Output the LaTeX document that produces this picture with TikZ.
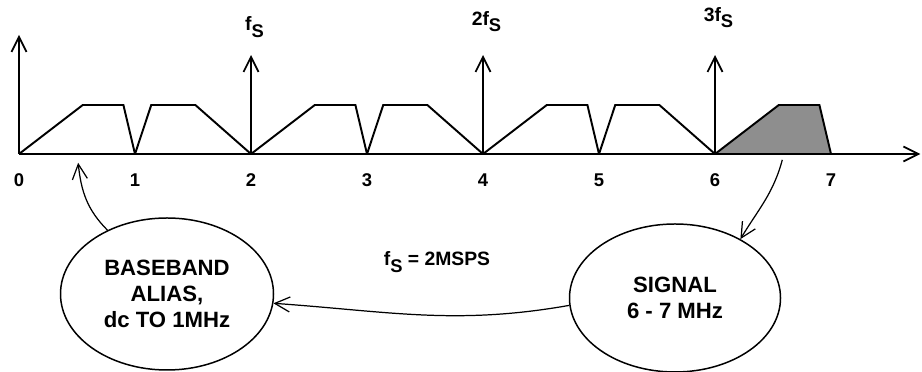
\documentclass[tikz,border=0pt]{standalone}
\usepackage{fontspec}
\setmainfont{Liberation Sans}
\usetikzlibrary{arrows.meta,positioning,shapes.geometric}
\definecolor{bandgrey}{HTML}{8E8E8E}
% sampling frequency with its lowered S
\newcommand{\fsamp}{f\raisebox{-0.33em}{\scalebox{0.95}{S}}}
\tikzset{
  >={Straight Barb[length=3mm,width=3mm]},
  % spectrum
  ax/.style={->,line width=1pt},
  imp/.style={->,line width=1pt},
  band/.style={line width=1.1pt,line join=miter},
  ticklbl/.style={font=\bfseries\fontsize{10.5}{12}\selectfont,inner sep=0pt,anchor=north},
  implbl/.style={font=\bfseries\fontsize{11}{12}\selectfont,inner sep=0pt,anchor=south},
  % ellipses and links
  blob/.style={ellipse,draw,line width=0.85pt,align=center,inner sep=0pt,
               font=\bfseries\fontsize{12.6}{14.8}\selectfont},
  link/.style={->,line width=0.7pt},
}
\begin{document}
\begin{tikzpicture}[x=0.2mm,y=0.2mm]
  \useasboundingbox (0,0) rectangle (922,372);
  % spectrum, one unit per MHz
  \begin{scope}[shift={(19,218)},x=23.2mm,y=9.8mm]
    \coordinate (o) at (0,0);
    \coordinate (xend) at (7.77,0);
    \coordinate (yend) at (0,2.43);
    \fill[bandgrey] (6,0) -- (6.55,1) -- (6.9,1) -- (7,0) -- cycle;
    \foreach \k in {0,2,4,6}
      \draw[band] (\k,0) -- ++(0.55,1) -- ++(0.35,0) -- ++(0.1,-1);
    \foreach \k in {1,3,5}
      \draw[band] (\k,0) -- ++(0.14,1) -- ++(0.38,0) -- ++(0.48,-1);
    \draw[ax] (o) -- (xend);
    \draw[ax] (o) -- (yend);
    \foreach \k in {0,...,7}
      \node[ticklbl] (n\k) at (\k,-0.39) {\k};
    \foreach \k/\m/\h in {2//2.37,4/2/2.49,6/3/2.57} {
      \draw[imp] (\k,0) -- (\k,2.02) coordinate (p\k);
      \node[implbl] (l\k) at (\k+0.03,\h) {\m\fsamp};
    }
    \coordinate (sig) at (6.58,-0.12);
    \coordinate (dc) at (0.51,-0.18);
  \end{scope}
  \node[blob,minimum width=42.6mm,minimum height=30.4mm] (alias) at (167,78)
    {BASEBAND\\ALIAS,\\dc TO 1MHz};
  \node[blob,minimum width=42.2mm,minimum height=29.6mm] (signal) at (675,74)
    {SIGNAL\\6 - 7 MHz};
  \node[font=\bfseries\fontsize{11}{12}\selectfont] (rate) at (437,110) {\fsamp{} = 2MSPS};
  \draw[link] (sig) to[out=-105,in=59] (signal.42);
  \draw[link] (signal.184) to[out=190,in=-4] (alias.-5);
  \draw[link] (alias.133) to[out=135,in=-84] (dc);
\end{tikzpicture}
\end{document}
